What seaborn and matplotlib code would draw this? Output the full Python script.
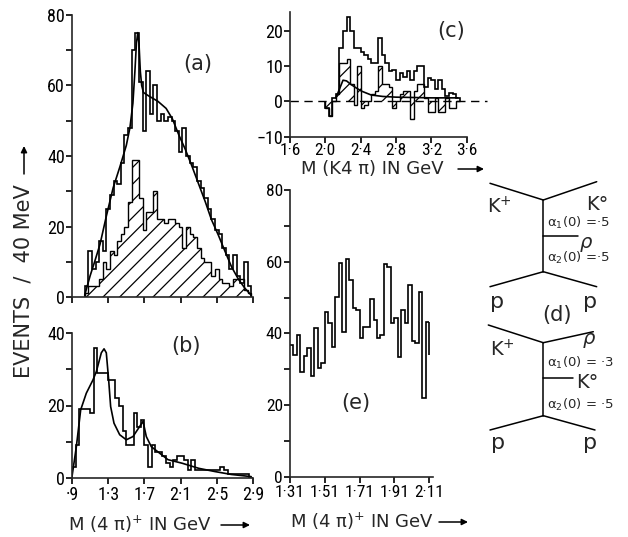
import numpy as np
import seaborn as sns
import matplotlib
matplotlib.use("Agg")
import matplotlib.pyplot as plt
from matplotlib import font_manager as fm

# ---------------- data ----------------
# panel (a): M(4pi)+ , 40 MeV bins starting at 1.04 GeV
a_start, a_width = 1.04, 0.04
a_open = [3, 13, 8, 10, 16, 13, 25, 29, 33, 32, 38, 46, 48, 70, 75, 61, 47, 64, 52, 60,
          50, 52, 50, 51, 50, 47, 41, 48, 40, 38, 37, 33, 31, 28, 25, 22, 19, 18, 14, 12,
          8, 12, 6, 4, 10, 3]
a_hatched = [1, 3, 3, 3, 5, 10, 8, 13, 12, 16, 18, 20, 27, 39, 39, 28, 19, 24, 24, 30,
             22, 22, 21, 22, 22, 21, 20, 14, 20, 18, 17, 14, 11, 10, 10, 6, 8, 5, 4, 4,
             3, 5, 5, 5, 2, 1]
a_curve_x = [1.04, 1.10, 1.15, 1.21, 1.28, 1.355, 1.43, 1.50, 1.54, 1.573, 1.595, 1.612,
             1.627, 1.64, 1.655, 1.67, 1.69, 1.75, 1.85, 1.94, 2.01, 2.08, 2.15, 2.227,
             2.30, 2.373, 2.44, 2.518, 2.59, 2.664, 2.74, 2.81, 2.88]
a_curve_y = [0.5, 6, 10, 15, 23, 31, 37, 43, 48, 55, 64, 72, 75, 72, 64, 60, 58, 57, 55.5,
             53.5, 50.5, 46, 42, 37, 32, 27, 22, 17.5, 13, 8.5, 5, 2.5, 0.5]

# panel (b): 40 MeV bins starting at 0.90 GeV
b_start, b_width = 0.90, 0.04
b_open = [3, 9, 19, 19, 19, 18, 36, 29, 29, 29, 27, 27, 22, 20, 13, 9, 9, 18, 14, 16,
          9, 3, 9, 7, 7, 6, 4, 3, 5, 6, 6, 5, 2, 5, 2, 2, 2, 2, 2, 2,
          2, 3, 2, 1, 1, 1, 1, 1, 1, 0]
b_curve_x = [0.90, 0.948, 0.996, 1.058, 1.132, 1.169, 1.224, 1.254, 1.279, 1.305, 1.327,
             1.364, 1.427, 1.50, 1.574, 1.648, 1.685, 1.721, 1.776, 1.96, 2.118, 2.30,
             2.48, 2.66, 2.88]
b_curve_y = [0.3, 8.6, 18.8, 23.4, 27.1, 29.4, 34.6, 35.7, 34.6, 27.1, 19.7, 15.1, 11.9,
             10.5, 11.4, 14.2, 15.6, 11.4, 8.6, 5.0, 4.0, 2.6, 1.7, 0.9, 0.3]

# panel (c): M(K4pi), 40 MeV bins starting at 2.00 GeV
c_start, c_width = 2.00, 0.04
c_open = [-2, -4, 1, 2, 15, 20, 24, 20, 15, 15, 14, 13, 12, 11, 11, 18, 13, 11, 8.5, 9,
          6, 8, 7, 8.5, 6, 8.5, 10, 10, 4, 6.5, 6, 3.5, 6, 3.5, 1.5, 2.5, 2, 1]
c_hatched = [-2, -4, 0, 2, 11, 11, 12, 5, -1, 10, -2, -1, 0, 2, 3, 10, 5, 5, 4, -2,
             0, 2, 3, 3, -5, 3, 5, 5, 1, -3, -3, 1, -3, -3, 1, -2, -2, 0]
c_curve_x = [2.12, 2.16, 2.20, 2.24, 2.29, 2.35, 2.41, 2.52, 2.65, 2.80, 3.00, 3.20, 3.50]
c_curve_y = [1.0, 3.5, 6.0, 5.8, 4.8, 3.8, 2.9, 1.8, 1.4, 1.2, 1.1, 1.0, 1.0]
c_zero_x = [1.60, 3.83]

# panel (e): 20 MeV bins starting at 1.31 GeV
e_start, e_width = 1.31, 0.02
e_open = [36.7, 34, 39.5, 29.3, 33.7, 35.8, 28, 41.4, 30.2, 31.8, 46, 43, 36.3, 50.2,
          59.5, 40.5, 60.7, 55, 47, 46.5, 38.6, 41.9, 41.9, 49.5, 43.7, 38.6, 39.5, 59.3,
          58.6, 42.8, 44.2, 33.3, 46.5, 43, 53.5, 38, 37.2, 51.6, 21.9, 43.3]
e_end_drop = 34

a_ticks = [0.9, 1.3, 1.7, 2.1, 2.5, 2.9]
a_ticklabels = ["·9", "1·3", "1·7", "2·1", "2·5", "2·9"]
c_ticks = [1.6, 2.0, 2.4, 2.8, 3.2, 3.6]
c_ticklabels = ["1·6", "2·0", "2·4", "2·8", "3·2", "3·6"]
e_ticks = [1.31, 1.51, 1.71, 1.91, 2.11]
e_ticklabels = ["1·31", "1·51", "1·71", "1·91", "2·11"]

# ---------------- style ----------------
sns.set_style("ticks")
avail = {f.name for f in fm.fontManager.ttflist}
fam = [f for f in ["Liberation Sans Narrow", "DejaVu Sans Condensed", "Roboto Condensed",
                   "Liberation Sans"] if f in avail] + ["DejaVu Sans"]
plt.rcParams["font.family"] = fam
plt.rcParams["mathtext.fontset"] = "dejavusans"
plt.rcParams["hatch.linewidth"] = 0.9
plt.rcParams["axes.linewidth"] = 1.2
WIDE = ["DejaVu Sans"]

W, H = 628, 537
fig = plt.figure(figsize=(W / 100, H / 100), dpi=100)
fig.patch.set_facecolor("white")


def add_ax(x0, x1, yb, yt):
    return fig.add_axes([x0 / W, (H - yb) / H, (x1 - x0) / W, (yb - yt) / H])


def edges(start, width, n):
    return start + width * np.arange(n + 1)


def style(ax, xlabsize=13, ylabsize=13, xpad=2):
    sns.despine(ax=ax)
    ax.set_facecolor("none")
    ax.tick_params(which="both", direction="out", width=1.2, colors="black")
    ax.tick_params(which="major", length=4)
    ax.tick_params(which="minor", length=4)
    ax.tick_params(axis="x", labelsize=xlabsize, pad=xpad)
    ax.tick_params(axis="y", labelsize=ylabsize, pad=1)
    ax.set_xlabel("")
    ax.set_ylabel("")


LW = 1.2

# ---- panel (a)
axA = add_ax(72, 253, 297, 15)
ea = edges(a_start, a_width, len(a_open))
axA.stairs(a_hatched, ea, fill=True, hatch="//", facecolor="white", edgecolor="black", lw=1.0)
axA.stairs(a_open, ea, color="black", lw=LW)
sns.lineplot(x=a_curve_x, y=a_curve_y, ax=axA, color="black", lw=LW)
axA.set_xlim(0.9, 2.9)
axA.set_ylim(0, 80)
axA.set_xticks(a_ticks)
axA.set_xticklabels([])
axA.set_yticks([0, 20, 40, 60, 80])
axA.set_yticks([10, 30, 50, 70], minor=True)
style(axA)

# ---- panel (b)
axB = add_ax(72, 253, 477.7, 333.3)
eb = edges(b_start, b_width, len(b_open))
axB.stairs(b_open, eb, color="black", lw=LW)
sns.lineplot(x=b_curve_x, y=b_curve_y, ax=axB, color="black", lw=LW)
axB.set_xlim(0.9, 2.9)
axB.set_ylim(0, 40)
axB.set_xticks(a_ticks)
axB.set_xticklabels(a_ticklabels)
axB.set_yticks([0, 20, 40])
axB.set_yticks([10, 30], minor=True)
style(axB)

# ---- panel (c)
axC = add_ax(290, 466.7, 136.7, 11.7)
ec = edges(c_start, c_width, len(c_open))
axC.stairs(c_hatched, ec, fill=True, hatch="//", facecolor="white", edgecolor="black", lw=1.0)
axC.stairs(c_open, ec, color="black", lw=LW)
sns.lineplot(x=c_curve_x, y=c_curve_y, ax=axC, color="black", lw=LW)
axC.plot(c_zero_x, [0, 0], color="black", lw=1.0, dashes=(6, 4), clip_on=False)
axC.set_xlim(1.6, 3.6)
axC.set_ylim(-10, 25.4)
axC.set_xticks(c_ticks)
axC.set_xticklabels(c_ticklabels)
axC.set_yticks([-10, 0, 10, 20])
style(axC, xlabsize=12.5, ylabsize=13, xpad=0.5)

# ---- panel (e)
axE = add_ax(290, 432.7, 476.7, 190)
ee = edges(e_start, e_width, len(e_open))
axE.stairs(e_open, ee, baseline=None, color="black", lw=LW)
axE.vlines(ee[-1], e_end_drop, e_open[-1], color="black", lw=LW)
axE.set_xlim(1.31, 2.13)
axE.set_ylim(0, 80)
axE.set_xticks(e_ticks)
axE.set_xticklabels(e_ticklabels)
axE.set_yticks([0, 20, 40, 60, 80])
axE.set_yticks([10, 30, 50, 70], minor=True)
style(axE, xlabsize=12.5, ylabsize=12.5, xpad=2)

# ---------------- overlay: labels and diagram (d) ----------------
axO = fig.add_axes([0, 0, 1, 1], zorder=10)
axO.set_xlim(0, W)
axO.set_ylim(H, 0)
axO.axis("off")
axO.patch.set_alpha(0)

arrow = dict(arrowstyle="-|>", lw=1.1, color="black", mutation_scale=9, shrinkA=0, shrinkB=0)

axO.text(24, 281, "EVENTS  /  40 MeV", rotation=90, ha="center", va="center", fontsize=15,
         family=WIDE)
axO.annotate("", xy=(24, 146), xytext=(24, 174), arrowprops=arrow)

axO.text(140, 524, "M (4 π)$^{+}$ IN GeV", ha="center", va="center", fontsize=13, family=WIDE)
axO.annotate("", xy=(250, 525), xytext=(221, 525), arrowprops=arrow)
axO.text(372, 169, "M (K4 π) IN GeV", ha="center", va="center", fontsize=13, family=WIDE)
axO.annotate("", xy=(484, 169), xytext=(458, 169), arrowprops=arrow)
axO.text(362, 521, "M (4 π)$^{+}$ IN GeV", ha="center", va="center", fontsize=13, family=WIDE)
axO.annotate("", xy=(468, 522), xytext=(439, 522), arrowprops=arrow)

for (px, py, s) in [(198, 64, "(a)"), (186, 346, "(b)"), (451, 31, "(c)"),
                    (356, 403, "(e)"), (557, 315, "(d)")]:
    axO.text(px, py, s, ha="center", va="center", fontsize=15, family=WIDE)

diag_lines = [
    ((490, 183.3), (543.3, 200)), ((543.3, 200), (596.7, 181.7)),
    ((543.3, 200), (543.3, 271.7)), ((543.3, 236), (578.3, 236)),
    ((543.3, 271.7), (490, 286.7)), ((543.3, 271.7), (596.7, 286.7)),
    ((488.3, 325), (543.3, 342.7)), ((543.3, 342.7), (593.3, 331.7)),
    ((543.3, 342.7), (543.3, 415.7)), ((543.3, 378.3), (573.3, 378.3)),
    ((543.3, 415.7), (490, 430)), ((543.3, 415.7), (595, 430)),
]
for p0, p1 in diag_lines:
    axO.plot([p0[0], p1[0]], [p0[1], p1[1]], color="black", lw=1.1)

big = 14
small = 9.5
kw = dict(family=WIDE)
axO.text(499, 207, "K$^{+}$", ha="center", va="center", fontsize=big, **kw)
axO.text(597, 204, "K°", ha="center", va="center", fontsize=big, **kw)
axO.text(547, 223, "α$_{1}$(0) =·5", ha="left", va="center", fontsize=small, **kw)
axO.text(586, 242, "ρ", ha="center", va="center", fontsize=big, style="italic", **kw)
axO.text(547, 258, "α$_{2}$(0) =·5", ha="left", va="center", fontsize=small, **kw)
axO.text(497, 302, "p", ha="center", va="center", fontsize=big + 2, **kw)
axO.text(590, 302, "p", ha="center", va="center", fontsize=big + 2, **kw)

axO.text(502, 350, "K$^{+}$", ha="center", va="center", fontsize=big, **kw)
axO.text(589, 338, "ρ", ha="center", va="center", fontsize=big, style="italic", **kw)
axO.text(547, 363, "α$_{1}$(0) = ·3", ha="left", va="center", fontsize=small, **kw)
axO.text(587, 383, "K°", ha="center", va="center", fontsize=big, **kw)
axO.text(547, 405, "α$_{2}$(0) = ·5", ha="left", va="center", fontsize=small, **kw)
axO.text(498, 443, "p", ha="center", va="center", fontsize=big + 2, **kw)
axO.text(590, 443, "p", ha="center", va="center", fontsize=big + 2, **kw)

fig.savefig("out.png", dpi=100, facecolor="white")
